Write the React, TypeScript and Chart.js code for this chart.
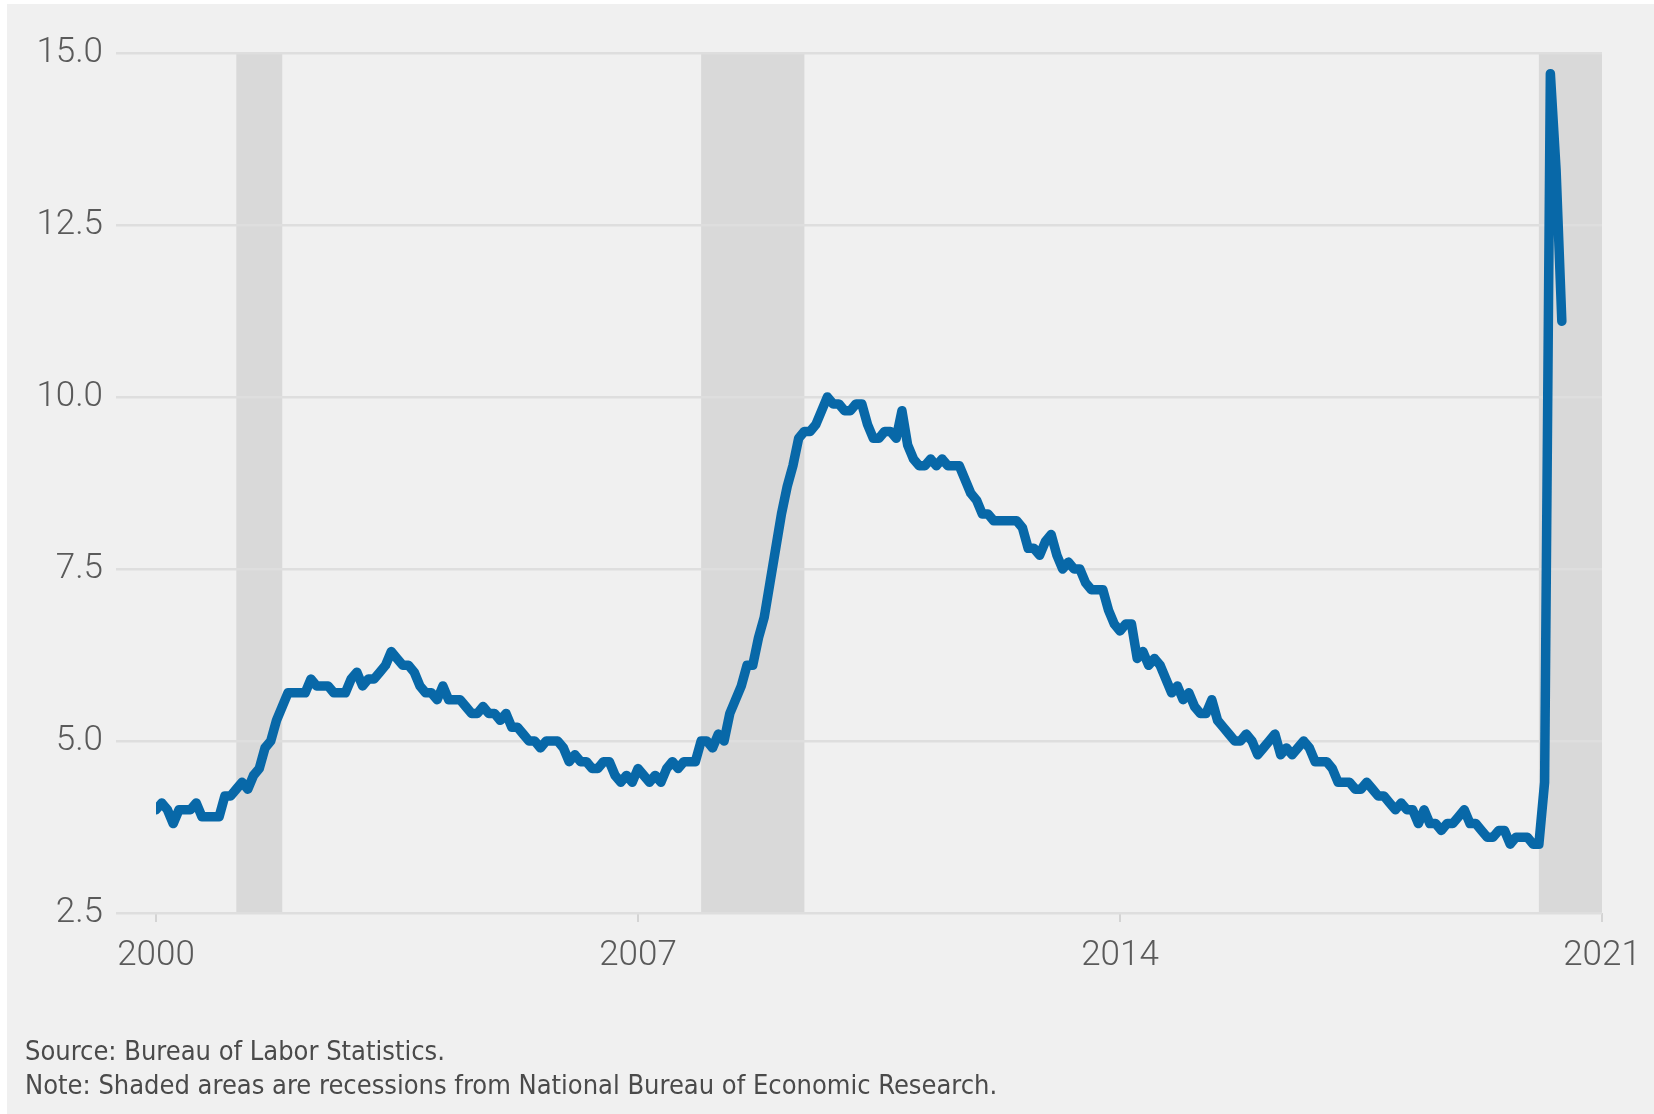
import React, { useEffect, useRef } from "react";
import { Chart, registerables } from "chart.js";

Chart.register(...registerables);

const startYear = 2000;
const rate2000 = [4.0, 4.1, 4.0, 3.8, 4.0, 4.0, 4.0, 4.1, 3.9, 3.9, 3.9, 3.9];
const rate2001 = [4.2, 4.2, 4.3, 4.4, 4.3, 4.5, 4.6, 4.9, 5.0, 5.3, 5.5, 5.7];
const rate2002 = [5.7, 5.7, 5.7, 5.9, 5.8, 5.8, 5.8, 5.7, 5.7, 5.7, 5.9, 6.0];
const rate2003 = [5.8, 5.9, 5.9, 6.0, 6.1, 6.3, 6.2, 6.1, 6.1, 6.0, 5.8, 5.7];
const rate2004 = [5.7, 5.6, 5.8, 5.6, 5.6, 5.6, 5.5, 5.4, 5.4, 5.5, 5.4, 5.4];
const rate2005 = [5.3, 5.4, 5.2, 5.2, 5.1, 5.0, 5.0, 4.9, 5.0, 5.0, 5.0, 4.9];
const rate2006 = [4.7, 4.8, 4.7, 4.7, 4.6, 4.6, 4.7, 4.7, 4.5, 4.4, 4.5, 4.4];
const rate2007 = [4.6, 4.5, 4.4, 4.5, 4.4, 4.6, 4.7, 4.6, 4.7, 4.7, 4.7, 5.0];
const rate2008 = [5.0, 4.9, 5.1, 5.0, 5.4, 5.6, 5.8, 6.1, 6.1, 6.5, 6.8, 7.3];
const rate2009 = [7.8, 8.3, 8.7, 9.0, 9.4, 9.5, 9.5, 9.6, 9.8, 10.0, 9.9, 9.9];
const rate2010 = [9.8, 9.8, 9.9, 9.9, 9.6, 9.4, 9.4, 9.5, 9.5, 9.4, 9.8, 9.3];
const rate2011 = [9.1, 9.0, 9.0, 9.1, 9.0, 9.1, 9.0, 9.0, 9.0, 8.8, 8.6, 8.5];
const rate2012 = [8.3, 8.3, 8.2, 8.2, 8.2, 8.2, 8.2, 8.1, 7.8, 7.8, 7.7, 7.9];
const rate2013 = [8.0, 7.7, 7.5, 7.6, 7.5, 7.5, 7.3, 7.2, 7.2, 7.2, 6.9, 6.7];
const rate2014 = [6.6, 6.7, 6.7, 6.2, 6.3, 6.1, 6.2, 6.1, 5.9, 5.7, 5.8, 5.6];
const rate2015 = [5.7, 5.5, 5.4, 5.4, 5.6, 5.3, 5.2, 5.1, 5.0, 5.0, 5.1, 5.0];
const rate2016 = [4.8, 4.9, 5.0, 5.1, 4.8, 4.9, 4.8, 4.9, 5.0, 4.9, 4.7, 4.7];
const rate2017 = [4.7, 4.6, 4.4, 4.4, 4.4, 4.3, 4.3, 4.4, 4.3, 4.2, 4.2, 4.1];
const rate2018 = [4.0, 4.1, 4.0, 4.0, 3.8, 4.0, 3.8, 3.8, 3.7, 3.8, 3.8, 3.9];
const rate2019 = [4.0, 3.8, 3.8, 3.7, 3.6, 3.6, 3.7, 3.7, 3.5, 3.6, 3.6, 3.6];
const rate2020 = [3.5, 3.5, 4.4, 14.7, 13.3, 11.1];

const yearlyRates = [
  rate2000, rate2001, rate2002, rate2003, rate2004, rate2005, rate2006,
  rate2007, rate2008, rate2009, rate2010, rate2011, rate2012, rate2013,
  rate2014, rate2015, rate2016, rate2017, rate2018, rate2019, rate2020,
];

// recessions as [start, end] in fractional years (NBER)
const recessionStarts = [2001 + 2 / 12, 2007 + 11 / 12, 2020 + 1 / 12];
const recessionEnds = [2001 + 10 / 12, 2009 + 5 / 12, 2021];

const xTicks = [2000, 2007, 2014, 2021];
const yTicks = [2.5, 5.0, 7.5, 10.0, 12.5, 15.0];

const sourceText = "Source: Bureau of Labor Statistics.";
const noteText = "Note: Shaded areas are recessions from National Bureau of Economic Research.";

const W = 1654;
const H = 1114;

const recessionPlugin = {
  id: "recessions",
  beforeDraw(chart: any) {
    const { ctx, chartArea, scales } = chart;
    const x = scales.x;
    ctx.save();
    ctx.fillStyle = "#d9d9d9";
    for (let i = 0; i < recessionStarts.length; i++) {
      const x0 = x.getPixelForValue(recessionStarts[i]);
      const x1 = x.getPixelForValue(recessionEnds[i]);
      ctx.fillRect(x0, chartArea.top, x1 - x0, chartArea.bottom - chartArea.top);
    }
    ctx.restore();
  },
};

export default function App() {
  const ref = useRef<HTMLCanvasElement | null>(null);

  useEffect(() => {
    if (!ref.current) return;
    const points: { x: number; y: number }[] = [];
    yearlyRates.forEach((arr, yi) => {
      arr.forEach((v, m) => points.push({ x: startYear + yi + m / 12, y: v }));
    });

    const chart = new Chart(ref.current, {
      type: "line",
      data: {
        datasets: [
          {
            data: points,
            borderColor: "#0868a8",
            borderWidth: 9.5,
            pointRadius: 0,
            borderCapStyle: "round",
            borderJoinStyle: "round",
            tension: 0,
          },
        ],
      },
      options: {
        animation: false,
        responsive: false,
        devicePixelRatio: 1,
        layout: { padding: { top: 53, right: 52, left: 0, bottom: 0 } },
        plugins: { legend: { display: false }, tooltip: { enabled: false } },
        scales: {
          x: {
            type: "linear",
            min: 2000,
            max: 2021,
            afterBuildTicks: (s: any) => {
              s.ticks = xTicks.map((v) => ({ value: v }));
            },
            afterFit: (s: any) => {
              s.height = H - 913;
            },
            grid: {
              display: true,
              drawOnChartArea: false,
              drawTicks: true,
              tickLength: 9,
              color: "#d4d4d4",
              lineWidth: 2,
            },
            border: { display: false },
            ticks: {
              color: "#5a5a5a",
              font: { family: "Roboto", size: 35, weight: "300" },
              padding: 13,
              maxRotation: 0,
              autoSkip: false,
              callback: (v: any) => String(v),
            },
          },
          y: {
            min: 2.5,
            max: 15,
            afterBuildTicks: (s: any) => {
              s.ticks = yTicks.map((v) => ({ value: v }));
            },
            afterFit: (s: any) => {
              s.width = 156;
            },
            grid: {
              color: "#dedede",
              lineWidth: 2.5,
              drawTicks: true,
              tickLength: 40,
            },
            border: { display: false },
            ticks: {
              color: "#5a5a5a",
              font: { family: "Roboto", size: 35, weight: "300" },
              padding: 13,
              callback: (v: any) => Number(v).toFixed(1),
            },
          },
        },
      },
      plugins: [recessionPlugin],
    });
    return () => chart.destroy();
  }, []);

  return (
    <div
      style={{
        position: "absolute",
        left: 0,
        top: 0,
        width: W,
        height: H,
        overflow: "hidden",
        background: "#ffffff",
      }}
    >
      <div
        style={{
          position: "absolute",
          left: 7,
          top: 4,
          right: 0,
          bottom: 0,
          background: "#f0f0f0",
        }}
      />
      <canvas
        ref={ref}
        width={W}
        height={H}
        style={{ position: "absolute", left: 0, top: 0, width: W, height: H }}
      />
      <div
        style={{
          position: "absolute",
          left: 25,
          top: 1034,
          fontFamily: "'Liberation Sans Narrow', 'DejaVu Sans Condensed', Roboto, sans-serif",
          fontSize: 27,
          lineHeight: "34px",
          color: "#4a4a4a",
          whiteSpace: "nowrap",
        }}
      >
        <div>{sourceText}</div>
        <div>{noteText}</div>
      </div>
    </div>
  );
}
